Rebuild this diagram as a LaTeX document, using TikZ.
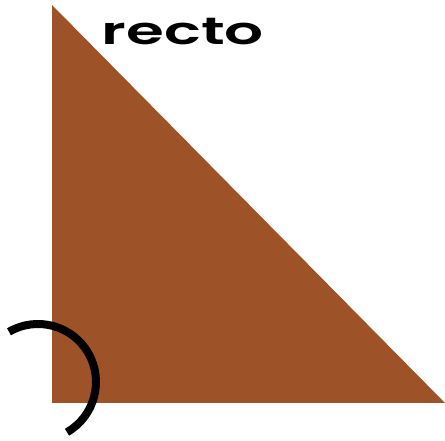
\documentclass[tikz,border=0pt]{standalone}
\usepackage{fontspec}
\newfontfamily\labelfont{Poppins}[UprightFont=* SemiBold]
\definecolor{rust}{RGB}{157,83,39}
\begin{document}
\begin{tikzpicture}[x=1pt,y=1pt]
\useasboundingbox (0,0) rectangle (445,441);
\fill[rust] (52,436) -- (52,38) -- (445,38) -- cycle;
\draw[line width=8pt] (38,59)+(120:58) arc[start angle=120,end angle=-60,radius=58];
\node[anchor=base,inner sep=0pt] (title) at (183,396.5) {\scalebox{1.61}[1]{\labelfont\fontsize{38}{38}\selectfont recto}};
\end{tikzpicture}
\end{document}
